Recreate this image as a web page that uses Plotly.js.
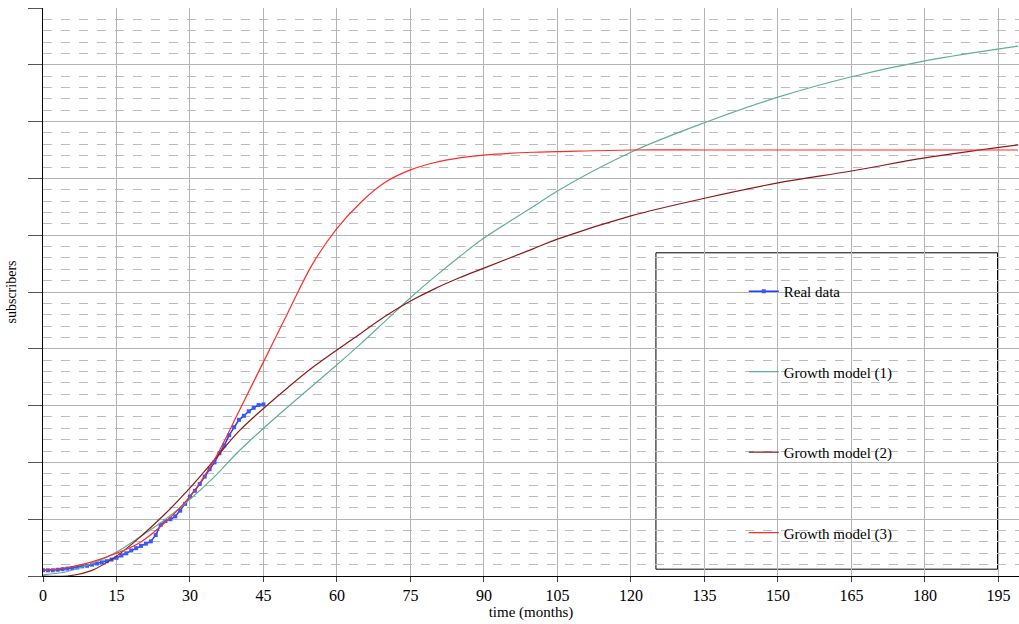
<!DOCTYPE html>
<html>
<head>
<script src="https://cdn.plot.ly/plotly-3.0.1.min.js"></script>
</head>
<body style="margin:0">
<div id="chart" style="width:1019px;height:624px"></div>
<script>
// Real data, by month
var realX = [0, 1, 2, 3, 4, 5, 6, 7, 8, 9, 10, 11, 12, 13, 14, 15, 16, 17, 18, 19, 20, 21, 22, 23, 24, 25, 26, 27, 28, 29, 30, 31, 32, 33, 34, 35, 36, 37, 38, 39, 40, 41, 42, 43, 44, 45];
var realY = [0.1, 0.1, 0.1, 0.11, 0.12, 0.13, 0.14, 0.15, 0.17, 0.18, 0.2, 0.22, 0.24, 0.26, 0.29, 0.32, 0.36, 0.4, 0.45, 0.49, 0.53, 0.57, 0.61, 0.72, 0.9, 0.97, 1.0, 1.05, 1.15, 1.27, 1.4, 1.5, 1.62, 1.75, 1.88, 2.0, 2.16, 2.3, 2.48, 2.62, 2.75, 2.82, 2.9, 2.96, 3.01, 3.02];

// Model curves read every few months
var modelX = [0, 5, 10, 15, 20, 25, 30, 35, 40, 45, 50, 55, 60, 65, 70, 75, 80, 85, 90, 100, 105, 120, 135, 150, 165, 180, 199];
var model1 = [0.02, 0.08, 0.22, 0.42, 0.7, 1.0, 1.35, 1.75, 2.2, 2.6, 2.98, 3.35, 3.72, 4.1, 4.5, 4.9, 5.27, 5.62, 5.95, 6.5, 6.78, 7.46, 7.98, 8.43, 8.79, 9.07, 9.33];
var model2 = [0, 0, 0.1, 0.35, 0.7, 1.1, 1.55, 2.05, 2.55, 2.95, 3.32, 3.67, 3.98, 4.28, 4.58, 4.84, 5.06, 5.25, 5.42, 5.76, 5.93, 6.34, 6.65, 6.92, 7.13, 7.36, 7.59];
var model3 = [0.1, 0.15, 0.25, 0.4, 0.6, 0.95, 1.4, 2.05, 2.9, 3.77, 4.64, 5.49, 6.12, 6.59, 6.94, 7.15, 7.28, 7.36, 7.41, 7.46, 7.47, 7.5, 7.5, 7.5, 7.5, 7.5, 7.5];

var xTicks = [0, 15, 30, 45, 60, 75, 90, 105, 120, 135, 150, 165, 180, 195];

var data = [
	{x: realX, y: realY, name: 'Real data', type: 'scatter', mode: 'lines+markers',
		line: {color: '#1f3cff', width: 1.5}, marker: {color: '#3a58ff', size: 4, symbol: 'square'}, legendgroup: 'a'},
	{x: modelX, y: model1, name: 'Growth model (1)', type: 'scatter', mode: 'lines',
		line: {color: '#5fae96', width: 1.2, shape: 'spline', smoothing: 1}, legendgroup: 'b'},
	{x: modelX, y: model2, name: 'Growth model (2)', type: 'scatter', mode: 'lines',
		line: {color: '#8b1a1a', width: 1.2, shape: 'spline', smoothing: 1}, legendgroup: 'c'},
	{x: modelX, y: model3, name: 'Growth model (3)', type: 'scatter', mode: 'lines',
		line: {color: '#ff2a2a', width: 1.2, shape: 'spline', smoothing: 1}, legendgroup: 'd'}
];

var layout = {
	width: 1019,
	height: 624,
	margin: {l: 43, r: 0, t: 8, b: 48},
	paper_bgcolor: '#fff',
	plot_bgcolor: '#fff',
	font: {family: 'Liberation Serif', size: 16, color: '#000'},
	xaxis: {
		range: [0, 199.2], tickvals: xTicks, ticks: 'outside', ticklen: 5,
		showgrid: true, gridcolor: '#b4b4b4', zeroline: false,
		showline: true, linecolor: '#000',
		title: {text: 'time (months)', font: {size: 15}, standoff: 2}
	},
	yaxis: {
		range: [0, 10], dtick: 1, showticklabels: false, ticks: 'outside', ticklen: 14, tickcolor: '#555',
		showgrid: true, gridcolor: '#b4b4b4', zeroline: false,
		showline: true, linecolor: '#000',
		minor: {dtick: 0.2, showgrid: true, gridcolor: '#bbbbbb', griddash: 'dash', ticks: ''},
		title: {text: 'subscribers', font: {size: 14}, standoff: 8}
	},
	shapes: [{type: 'rect', xref: 'paper', yref: 'paper', x0: 0.628, x1: 0.978, y0: 0.012, y1: 0.569,
		line: {color: '#000', width: 1}, fillcolor: '#fff', layer: 'below'}],
	legend: {x: 0.718, y: 0.53, xanchor: 'left', yanchor: 'top', bgcolor: 'rgba(0,0,0,0)',
		tracegroupgap: 58, font: {size: 15}},
	showlegend: true
};

Plotly.newPlot('chart', data, layout, {displayModeBar: false});
</script>
</body>
</html>
